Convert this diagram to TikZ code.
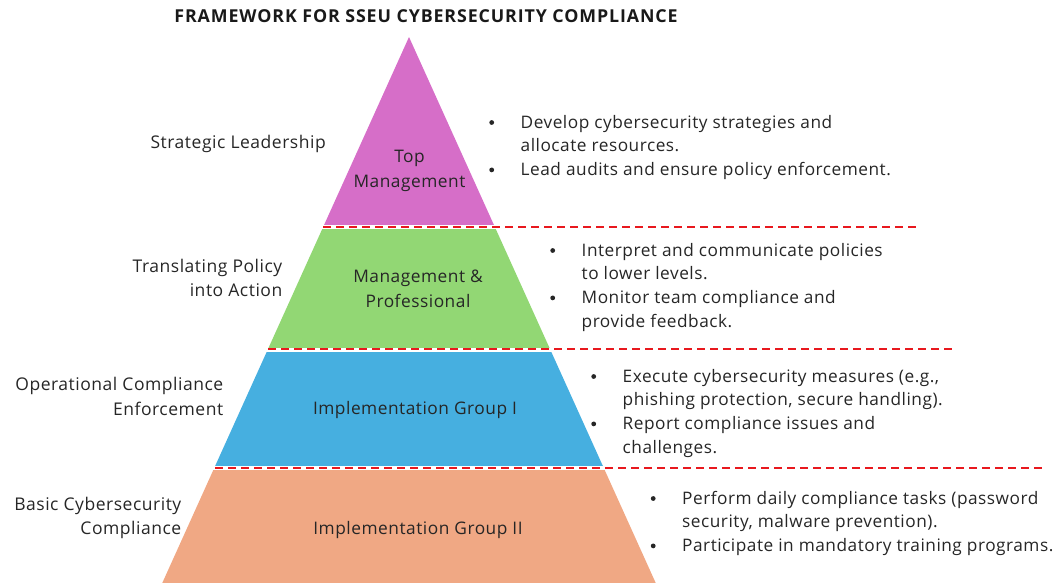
\documentclass[tikz,border=0pt]{standalone}
\usepackage{fontspec}
\setmainfont{Open Sans}[LetterSpace=3]
\newfontfamily\titlefont{Open Sans}[LetterSpace=5]
\usetikzlibrary{calc}

\definecolor{topcol}{RGB}{214,110,200}
\definecolor{midcol}{RGB}{146,215,116}
\definecolor{impcol}{RGB}{70,175,224}
\definecolor{basecol}{RGB}{240,168,132}
\definecolor{txt}{RGB}{38,38,38}
\definecolor{sepred}{RGB}{232,24,30}

% round bullet centred on the column start, text 29pt further right
\newcommand\bul{\makebox[0pt][c]{\tikz[x=1pt,y=1pt,baseline=-5.5pt]\fill[txt] (0,0) circle[radius=2.4pt];}\hspace*{29pt}}
\newcommand\cont{\hspace*{29pt}}

\tikzset{
  sepline/.style={draw=sepred, line width=2pt, dash pattern=on 8pt off 5pt},
  sidelabel/.style={anchor=base east, inner sep=0pt, text=txt,
    font=\fontsize{17.5}{24.3}\selectfont},
  tierlabel/.style={anchor=base, inner sep=0pt, text=txt,
    font=\fontsize{17.3}{25}\selectfont},
  duties/.style={anchor=base west, inner sep=0pt, text=txt,
    font=\fontsize{17.25}{23.7}\selectfont},
  heading/.style={anchor=base, inner sep=0pt, text=black!90,
    font=\titlefont\fontsize{17.8}{20}\selectfont\bfseries}
}

\begin{document}
\begin{tikzpicture}[x=1pt,y=-1pt]
\useasboundingbox (0,0) rectangle (1055,582);

% pyramid outline
\coordinate (apex) at (409,37);
\coordinate (bl) at (160,588);
\coordinate (br) at (658,588);

% four tiers cut out of one triangle, separated by thin white gaps
\begin{scope}
  \clip (apex) -- (bl) -- (br) -- cycle;
  \fill[topcol]  (0,0)   rectangle (1055,225);
  \fill[midcol]  (0,229) rectangle (1055,347.5);
  \fill[impcol]  (0,351.5) rectangle (1055,466);
  \fill[basecol] (0,470) rectangle (1055,590);
\end{scope}

% dashed separators between the tiers
\coordinate (s1a) at (323,226.7);
\coordinate (s1b) at (917,226.7);
\coordinate (s2a) at (268,349.2);
\coordinate (s2b) at (955,349.2);
\coordinate (s3a) at (215,467.7);
\coordinate (s3b) at (1043,467.7);
\draw[sepline] (s1a) -- (s1b);
\draw[sepline] (s2a) -- (s2b);
\draw[sepline] (s3a) -- (s3b);

% title
\node[heading] (title) at (426,22) {FRAMEWORK FOR SSEU CYBERSECURITY COMPLIANCE};

% tier names inside the pyramid
\node[tierlabel] (t1) at (409.5,162.5) {\begin{tabular}[t]{@{}c@{}}Top\\Management\end{tabular}};
\node[tierlabel] (t2) at (418,282.5) {\begin{tabular}[t]{@{}c@{}}Management \&\\Professional\end{tabular}};
\node[tierlabel] (t3) at (415,414) {Implementation Group I};
\node[tierlabel] (t4) at (418,534.3) {Implementation Group II};

% roles on the left
\node[sidelabel] (r1) at (326,148.3) {Strategic Leadership};
\node[sidelabel] (r2) at (282.5,272.2) {\begin{tabular}[t]{@{}r@{}}Translating Policy\\into Action\end{tabular}};
\node[sidelabel] (r3) at (223.5,390.7) {\begin{tabular}[t]{@{}r@{}}Operational Compliance\\Enforcement\end{tabular}};
\node[sidelabel] (r4) at (181.5,510.5) {\begin{tabular}[t]{@{}r@{}}Basic Cybersecurity\\Compliance\end{tabular}};

% responsibilities on the right
\node[duties] (d1) at (491.5,128) {\begin{tabular}[t]{@{}l@{}}
  \bul Develop cybersecurity strategies and\\
  \cont allocate resources.\\
  \bul Lead audits and ensure policy enforcement.
\end{tabular}};
\node[duties] (d2) at (552.5,256) {\begin{tabular}[t]{@{}l@{}}
  \bul Interpret and communicate policies\\
  \cont to lower levels.\\
  \bul Monitor team compliance and\\
  \cont provide feedback.
\end{tabular}};
\node[duties] (d3) at (593.5,382) {\begin{tabular}[t]{@{}l@{}}
  \bul Execute cybersecurity measures (e.g.,\\
  \cont phishing protection, secure handling).\\
  \bul Report compliance issues and\\
  \cont challenges.
\end{tabular}};
\node[duties] (d4) at (653,504) {\begin{tabular}[t]{@{}l@{}}
  \bul Perform daily compliance tasks (password\\
  \cont security, malware prevention).\\
  \bul Participate in mandatory training programs.
\end{tabular}};
\end{tikzpicture}
\end{document}
